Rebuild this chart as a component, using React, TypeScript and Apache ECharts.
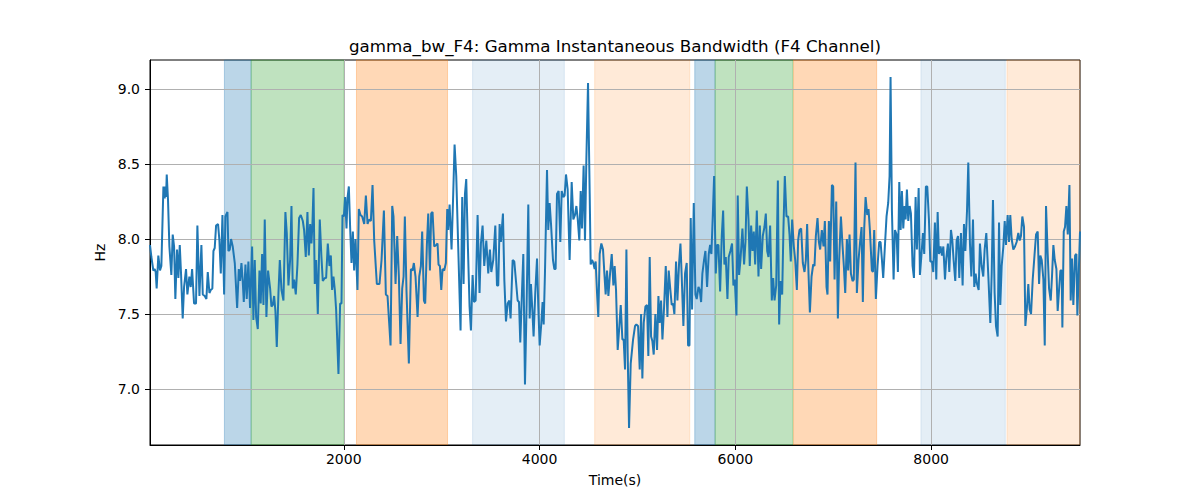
import React, { useEffect, useRef } from "react";
import * as echarts from "echarts";

const TITLE = "gamma_bw_F4: Gamma Instantaneous Bandwidth (F4 Channel)";
const X_NAME = "Time(s)";
const Y_NAME = "Hz";

const times = [
  21, 35, 55, 69, 79, 89, 106, 123, 137, 158, 171, 178, 185, 192, 205, 219, 239, 253, 267, 280, 297, 311, 325, 338, 355, 369, 389, 403, 423, 437, 451, 471, 491, 505, 526, 546, 560, 580, 597, 611, 628, 641, 658, 669, 682, 696, 716, 730, 744, 761, 778, 791, 812, 822, 836, 849, 866, 887, 911, 928, 941, 955, 968, 979, 996, 1009, 1026, 1043, 1064, 1077, 1091, 1105, 1122, 1139, 1152, 1166, 1180, 1193, 1210, 1227, 1248, 1261,
  1275, 1289, 1302, 1316, 1333, 1347, 1364, 1384, 1404, 1418, 1435, 1452, 1466, 1479, 1493, 1510, 1527, 1544, 1561, 1582, 1595, 1612, 1629, 1643, 1657, 1670, 1680, 1691, 1704, 1718, 1735, 1755, 1772, 1786, 1807, 1820, 1837, 1854, 1868, 1881, 1895, 1909, 1922, 1946, 1963, 1977, 1987, 2001, 2014, 2028, 2038, 2052, 2065, 2079, 2093, 2106, 2120, 2140, 2154, 2171, 2188, 2209, 2226, 2243, 2260, 2277, 2294, 2311, 2338, 2365, 2386, 2410, 2430, 2447, 2464, 2478, 2495,
  2508, 2529, 2546, 2563, 2580, 2597, 2611, 2624, 2641, 2665, 2686, 2703, 2716, 2733, 2754, 2771, 2788, 2801, 2819, 2832, 2849, 2863, 2880, 2893, 2907, 2924, 2945, 2958, 2968, 2982, 2996, 3009, 3026, 3043, 3057, 3067, 3081, 3101, 3118, 3132, 3149, 3169, 3193, 3210, 3224, 3238, 3251, 3268, 3285, 3299, 3316, 3330, 3347, 3367, 3387, 3401, 3418, 3435, 3456, 3476, 3493, 3507, 3527, 3548, 3565, 3578, 3592, 3605, 3626, 3640, 3657, 3674, 3691, 3704, 3725,
  3742, 3759, 3776, 3790, 3803, 3820, 3834, 3851, 3868, 3885, 3899, 3912, 3926, 3939, 3956, 3974, 3987, 4001, 4018, 4031, 4042, 4055, 4076, 4089, 4103, 4117, 4137, 4151, 4164, 4178, 4195, 4212, 4226, 4243, 4256, 4270, 4287, 4307, 4328, 4345, 4362, 4376, 4389, 4406, 4420, 4433, 4450, 4464, 4478, 4495, 4512, 4522, 4536, 4549, 4563, 4573, 4587, 4600, 4614, 4631, 4648, 4662, 4675, 4689, 4703, 4720, 4737, 4754, 4767, 4781, 4798, 4815, 4829, 4846, 4859, 4873, 4887, 4900, 4914, 4931,
  4955, 4975, 4989, 5006, 5023, 5037, 5050, 5064, 5081, 5098, 5111, 5125, 5139, 5152, 5166, 5183, 5200, 5214, 5227, 5241, 5255, 5272, 5289, 5306, 5319, 5336, 5350, 5364, 5377, 5394, 5408, 5425, 5439, 5452, 5469, 5486, 5503, 5517, 5531, 5544, 5558, 5575, 5592, 5605, 5623, 5636, 5650, 5663, 5680, 5694, 5711, 5728, 5742, 5755, 5769, 5783, 5800, 5813, 5827, 5844, 5861, 5875, 5888, 5902, 5919, 5932, 5949, 5966, 5980, 5994, 6011, 6024, 6038, 6052, 6072, 6089, 6103, 6117, 6134, 6147, 6161,
  6175, 6188, 6202, 6219, 6236, 6250, 6263, 6280, 6297, 6311, 6325, 6338, 6355, 6372, 6386, 6400, 6417, 6434, 6447, 6461, 6478, 6491, 6505, 6522, 6539, 6553, 6566, 6580, 6597, 6611, 6628, 6641, 6655, 6672, 6689, 6706, 6720, 6733, 6747, 6761, 6778, 6795, 6808, 6822, 6839, 6853, 6866, 6883, 6900, 6914, 6931, 6941, 6955, 6968, 6986, 6999, 7013, 7030, 7047, 7060, 7078, 7095, 7108, 7122, 7139, 7152, 7166, 7180, 7197, 7210, 7227, 7241, 7258, 7275, 7289, 7302, 7316, 7330, 7347, 7360, 7374, 7394,
  7405, 7418, 7435, 7452, 7469, 7483, 7497, 7510, 7527, 7544, 7561, 7575, 7585, 7599, 7616, 7630, 7647, 7660, 7674, 7688, 7701, 7715, 7728, 7739, 7752, 7766, 7780, 7793, 7810, 7824, 7841, 7854, 7872, 7885, 7899, 7916, 7929, 7946, 7960, 7977, 7991, 8008, 8021, 8038, 8052, 8066, 8079, 8096, 8110, 8124, 8141, 8154, 8171, 8185, 8202, 8216, 8229, 8246, 8260, 8274, 8287, 8304, 8321, 8335, 8349, 8366, 8379, 8396, 8410, 8427, 8440, 8454, 8468, 8485, 8498, 8515, 8532, 8546, 8563, 8584, 8604, 8618,
  8631, 8648, 8662, 8679, 8693, 8706, 8720, 8737, 8751, 8764, 8781, 8795, 8808, 8822, 8839, 8856, 8873, 8890, 8904, 8917, 8931, 8948, 8962, 8979, 8992, 9006, 9020, 9037, 9054, 9071, 9088, 9102, 9115, 9129, 9146, 9160, 9173, 9190, 9204, 9221, 9234, 9248, 9262, 9279, 9292, 9306, 9320, 9333, 9340, 9354, 9367, 9381, 9395, 9412, 9425, 9439, 9452, 9470, 9483, 9493, 9507, 9520,
];

const values = [
  7.96, 7.88, 7.79, 7.80, 7.78, 7.67, 7.89, 7.79, 7.82, 8.35, 8.27, 8.35, 8.28, 8.43, 8.26, 7.95, 7.76, 8.03, 7.95, 7.60, 7.93, 7.74, 7.96, 7.77, 7.47, 7.68, 7.80, 7.63, 7.75, 7.68, 7.80, 7.57, 7.57, 8.09, 7.62, 7.96, 7.63, 7.62, 7.60, 7.78, 7.64, 7.66, 7.67, 7.92, 7.94, 8.09, 8.10, 7.99, 7.77, 8.16, 7.63, 8.15, 8.18, 7.92, 7.93, 8.00, 7.95, 7.84, 7.54, 7.80, 7.72, 7.84, 7.72, 7.58, 7.83, 7.60, 7.85, 7.54, 7.95, 7.46, 7.86, 7.48, 7.40, 7.79, 7.57, 7.90, 7.56, 8.13, 7.48, 7.79, 7.67, 7.55,
  7.56, 7.62, 7.52, 7.28, 7.64, 7.86, 7.66, 7.59, 8.18, 8.04, 7.69, 7.86, 8.22, 7.67, 7.73, 7.63, 7.83, 8.14, 8.16, 8.12, 8.06, 7.88, 8.18, 7.89, 8.10, 7.97, 8.10, 8.34, 7.70, 7.86, 7.50, 8.13, 7.88, 7.72, 7.74, 7.74, 7.97, 7.82, 7.89, 7.66, 7.75, 7.66, 7.53, 7.10, 7.57, 7.57, 8.16, 8.15, 8.28, 8.07, 8.27, 8.35, 8.08, 7.84, 8.05, 7.79, 8.00, 7.66, 8.20, 8.16, 8.15, 8.10, 8.29, 8.10, 8.13, 8.12, 8.36, 7.99, 7.70, 7.70, 7.86, 8.19, 7.63, 7.62, 7.44, 7.29, 8.22,
  8.15, 7.70, 8.02, 7.75, 7.30, 7.67, 7.75, 8.15, 7.65, 7.17, 7.80, 7.79, 7.84, 7.75, 7.48, 7.75, 7.82, 8.05, 7.59, 7.57, 7.96, 8.17, 7.79, 8.17, 8.18, 7.95, 7.96, 7.97, 7.83, 7.82, 7.66, 7.80, 7.79, 7.84, 8.20, 8.06, 8.23, 7.93, 8.30, 8.63, 8.42, 7.95, 7.39, 8.28, 7.70, 8.30, 8.40, 7.95, 7.55, 7.39, 7.76, 7.58, 7.59, 8.16, 7.64, 7.97, 8.09, 7.82, 7.99, 7.77, 7.93, 7.78, 7.86, 8.09, 7.69, 7.69, 8.10, 7.98, 8.17, 7.73, 7.45, 7.57, 7.59, 7.47, 7.86,
  7.85, 7.72, 7.59, 7.58, 7.31, 7.64, 7.90, 7.03, 7.57, 8.23, 7.47, 7.70, 7.53, 7.35, 7.64, 7.87, 7.55, 7.29, 7.44, 7.58, 7.43, 7.77, 8.46, 8.06, 8.24, 8.10, 7.86, 7.80, 7.80, 8.30, 8.32, 7.98, 8.32, 8.28, 8.29, 8.43, 8.33, 7.86, 8.38, 8.13, 8.16, 8.22, 8.14, 7.99, 8.32, 8.07, 8.49, 7.99, 8.53, 9.04, 8.30, 7.83, 7.86, 7.84, 7.80, 7.85, 7.64, 7.48, 7.90, 7.97, 7.93, 7.77, 7.63, 7.79, 7.62, 7.77, 7.90, 7.69, 7.82, 7.66, 7.26, 7.42, 7.56, 7.33, 7.33, 7.13, 7.93, 7.24, 6.74, 7.17,
  7.33, 7.42, 7.43, 7.42, 7.13, 7.50, 7.07, 7.44, 7.55, 7.56, 7.22, 7.88, 7.35, 7.32, 7.23, 7.50, 7.26, 7.62, 7.44, 7.59, 7.33, 7.55, 7.82, 7.48, 7.79, 7.66, 7.56, 7.57, 7.50, 7.85, 7.59, 7.84, 7.97, 7.75, 7.42, 7.77, 7.84, 7.29, 7.29, 8.14, 7.53, 8.24, 7.63, 7.60, 7.68, 7.66, 7.58, 7.77, 7.86, 7.92, 7.68, 7.90, 7.96, 7.90, 8.15, 8.42, 7.77, 7.96, 7.96, 7.65, 8.02, 8.19, 7.83, 7.88, 7.60, 7.88, 7.92, 7.97, 7.69, 7.73, 7.49, 8.29, 7.76, 7.86, 8.07, 7.83, 7.98, 8.35, 8.13, 7.82, 8.09,
  7.92, 8.05, 7.83, 8.19, 7.75, 8.09, 7.80, 8.02, 8.08, 8.17, 7.92, 7.88, 8.09, 7.59, 7.74, 7.59, 7.69, 8.39, 7.43, 7.72, 7.63, 8.07, 8.42, 8.15, 8.15, 8.03, 7.85, 8.13, 7.95, 7.86, 7.66, 7.99, 8.06, 8.07, 7.84, 7.78, 7.86, 8.10, 7.77, 7.51, 7.75, 7.83, 7.82, 8.02, 8.14, 7.98, 7.93, 8.06, 7.95, 8.12, 7.68, 7.63, 8.12, 7.85, 8.36, 8.35, 7.73, 8.25, 7.47, 7.86, 8.15, 7.95, 7.82, 7.64, 8.00, 7.79, 8.03, 7.77, 7.72, 7.73, 8.51, 7.64, 7.86, 7.99, 8.08, 7.58, 8.07, 8.28, 8.16, 8.20, 8.06, 7.79,
  7.78, 8.06, 7.60, 7.82, 7.98, 7.98, 7.86, 7.74, 7.95, 8.15, 8.24, 8.42, 9.08, 8.19, 7.73, 8.06, 8.03, 7.78, 8.38, 8.06, 8.32, 8.07, 8.22, 8.13, 8.33, 8.12, 8.22, 8.17, 7.82, 7.74, 8.28, 7.93, 8.34, 7.76, 7.88, 8.04, 7.90, 8.35, 8.35, 8.13, 7.85, 7.85, 7.78, 8.11, 7.73, 8.18, 7.90, 7.95, 7.89, 7.95, 7.73, 7.87, 7.97, 7.78, 8.06, 7.99, 7.86, 7.72, 7.99, 8.02, 7.74, 8.04, 7.69, 8.10, 7.92, 8.19, 8.51, 7.97, 7.75, 8.13, 7.68, 7.77, 7.70, 7.66, 7.97, 7.82, 7.75, 7.93, 8.04, 7.75, 7.44, 7.77,
  8.26, 7.64, 7.42, 7.35, 8.11, 7.56, 7.82, 7.95, 8.12, 7.96, 8.16, 7.98, 8.16, 8.00, 7.93, 7.95, 7.98, 8.04, 7.99, 8.02, 8.15, 8.08, 7.42, 7.55, 7.70, 7.53, 7.50, 7.73, 7.88, 8.03, 8.05, 7.70, 7.89, 7.86, 7.73, 7.29, 8.22, 7.90, 7.67, 7.59, 7.75, 7.96, 7.86, 7.80, 7.52, 7.66, 7.79, 7.79, 7.41, 8.05, 8.08, 8.22, 8.03, 8.36, 7.59, 7.87, 7.56, 7.89, 7.90, 7.49, 7.77, 8.05,
];

const bandStarts = [781, 1054, 2130, 3316, 4563, 5585, 5793, 6594, 7895, 8774];
const bandEnds = [1054, 2000, 3060, 4253, 5534, 5793, 6587, 7443, 8757, 9520];
const bandColors = [
  "rgba(31,119,180,0.3)",
  "rgba(44,160,44,0.3)",
  "rgba(255,127,14,0.3)",
  "rgba(31,119,180,0.12)",
  "rgba(255,127,14,0.16)",
  "rgba(31,119,180,0.3)",
  "rgba(44,160,44,0.3)",
  "rgba(255,127,14,0.3)",
  "rgba(31,119,180,0.12)",
  "rgba(255,127,14,0.16)",
];

const xTicks = [2000, 4000, 6000, 8000];
const yTicks = [7.0, 7.5, 8.0, 8.5, 9.0];
const X_MIN = 21;
const X_MAX = 9520;
const Y_MIN = 6.627;
const Y_MAX = 9.193;

const FONT = "DejaVu Sans";

export default function App() {
  const ref = useRef<HTMLDivElement>(null);

  useEffect(() => {
    if (!ref.current) return;
    const chart = echarts.init(ref.current, null, { renderer: "svg" });
    const lineData = times.map((t, i) => [t, values[i]]);
    const areas = bandStarts.map((s, i) => [
      {
        xAxis: s,
        itemStyle: {
          color: bandColors[i],
          borderColor: bandColors[i],
          borderWidth: 1,
        },
      },
      { xAxis: bandEnds[i] },
    ]);

    chart.setOption({
      animation: false,
      backgroundColor: "#ffffff",
      grid: {
        left: 150,
        right: 120,
        top: 60,
        bottom: 55,
        show: true,
        borderColor: "#000",
        borderWidth: 1,
        backgroundColor: "transparent",
        containLabel: false,
      },
      graphic: [
        {
          type: "text",
          x: 615,
          y: 46,
          style: {
            text: TITLE,
            fontSize: 16.7,
            fontFamily: FONT,
            fill: "#000",
            textAlign: "center",
            textVerticalAlign: "middle",
            align: "center",
            verticalAlign: "middle",
          },
        },
      ],
      xAxis: {
        type: "value",
        min: X_MIN,
        max: X_MAX,
        z: 3,
        name: X_NAME,
        nameLocation: "middle",
        nameGap: 28,
        nameTextStyle: { fontSize: 14, color: "#000", fontFamily: FONT },
        axisLine: { show: true, lineStyle: { color: "#000", width: 1 } },
        axisTick: {
          show: true,
          length: 5,
          customValues: xTicks,
          lineStyle: { color: "#000", width: 1 },
        },
        axisLabel: {
          customValues: xTicks,
          formatter: (v: number) => String(v),
          fontSize: 14,
          color: "#000",
          fontFamily: FONT,
          margin: 7,
        },
        splitLine: { show: true, lineStyle: { color: "#b0b0b0", width: 1 } },
      },
      yAxis: {
        type: "value",
        min: Y_MIN,
        max: Y_MAX,
        z: 3,
        name: Y_NAME,
        nameLocation: "middle",
        nameGap: 38,
        nameTextStyle: { fontSize: 14, color: "#000", fontFamily: FONT },
        axisLine: { show: true, lineStyle: { color: "#000", width: 1 } },
        axisTick: {
          show: true,
          length: 5,
          customValues: yTicks,
          lineStyle: { color: "#000", width: 1 },
        },
        axisLabel: {
          customValues: yTicks,
          formatter: (v: number) => v.toFixed(1),
          fontSize: 14,
          color: "#000",
          fontFamily: FONT,
          margin: 10,
        },
        splitLine: { show: true, lineStyle: { color: "#b0b0b0", width: 1 } },
      },
      series: [
        {
          type: "line",
          data: [],
          z: 1,
          silent: true,
          markArea: { silent: true, data: areas },
        },
        {
          type: "line",
          data: lineData,
          z: 5,
          symbol: "none",
          showSymbol: false,
          silent: true,
          lineStyle: { color: "#1f77b4", width: 2 },
        },
      ],
    });
    return () => chart.dispose();
  }, []);

  return (
    <div
      ref={ref}
      style={{ position: "absolute", left: 0, top: 0, width: 1200, height: 500 }}
    />
  );
}
